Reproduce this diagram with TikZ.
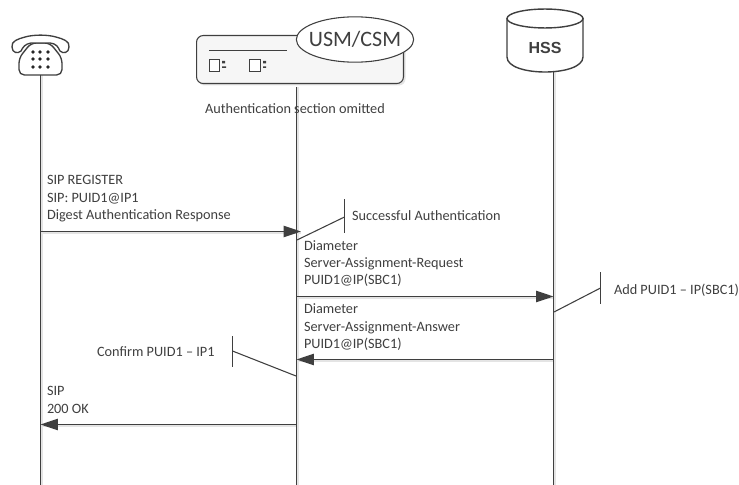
\documentclass[tikz,border=0pt]{standalone}
\usepackage{fontspec}
\setmainfont{Carlito}
\newfontfamily\hssfont{Liberation Sans}
\usetikzlibrary{arrows.meta,shapes.geometric}
\definecolor{ink}{HTML}{3F3F3F}
\definecolor{softgrey}{HTML}{E4E4E4}
\tikzset{
 x=0.75pt,y=-0.75pt,
 lifeline/.style={draw=ink,line width=1pt},
 msg/.style={draw=ink,line width=1pt,-{Triangle[length=13pt,width=8.5pt]}},
 note/.style={draw=ink,line width=0.8pt},
 ghost/.style={draw=softgrey,line width=1.2pt},
 label/.style={inner sep=0pt,outer sep=0pt,align=left,anchor=north west,font=\fontsize{10.7}{13}\selectfont,text=ink},
 cloud/.style={ellipse,draw=ink,line width=0.8pt,fill=white,minimum width=88pt,minimum height=34pt,inner sep=0pt},
 tinybox/.style={draw=ink,line width=0.7pt,fill=white,minimum width=8pt,minimum height=9pt,inner sep=0pt},
}
\begin{document}
\begin{tikzpicture}
\useasboundingbox (0,0) rectangle (739,485);
% anchors
\coordinate (phoneTop) at (40.5,75);
\coordinate (phoneEnd) at (40.5,485);
\coordinate (usmTop) at (296.5,87);
\coordinate (usmEnd) at (296.5,485);
\coordinate (hssTop) at (553.5,71);
\coordinate (hssEnd) at (553.5,485);
\coordinate (m1a) at (40.5,231.5);\coordinate (m1b) at (301,231.5);
\coordinate (m2a) at (296.5,296.5);\coordinate (m2b) at (553.5,296.5);
\coordinate (m3a) at (553.5,359.5);\coordinate (m3b) at (296.5,359.5);
\coordinate (m4a) at (296.5,424.5);\coordinate (m4b) at (40.5,424.5);
\coordinate (n1a) at (297,240);\coordinate (n1b) at (344.5,217);\coordinate (n1t) at (344.5,199);\coordinate (n1e) at (344.5,233);
\coordinate (n2a) at (554,312);\coordinate (n2b) at (600.5,288);\coordinate (n2t) at (600.5,272);\coordinate (n2e) at (600.5,304);
\coordinate (n3a) at (296,376);\coordinate (n3b) at (232.5,351);\coordinate (n3t) at (232.5,336);\coordinate (n3e) at (232.5,367);
% line shadows
\foreach \a/\b in {phoneTop/phoneEnd,usmTop/usmEnd,hssTop/hssEnd}{\draw[ghost,transform canvas={xshift=1.2pt}] (\a)--(\b);}
\foreach \a/\b in {m1a/m1b,m2a/m2b,m3b/m3a,m4b/m4a}{\draw[ghost,transform canvas={yshift=-1.2pt}] (\a)--(\b);}
% server box
\fill[softgrey,rounded corners=5pt] (198,38) rectangle (405.5,85.5);
\node[draw=ink,line width=0.8pt,rounded corners=5pt,fill=softgrey!35,minimum width=155.2pt,minimum height=36pt,inner sep=0pt,anchor=north west] (server) at (196,35) {};
\coordinate (bar1) at (209,50);\coordinate (bar2) at (287,50);
\draw[ink,line width=0.7pt] (bar1)--(bar2);
\node[tinybox] (port1) at (214.5,65) {};
\node[tinybox] (port2) at (255,65) {};
\fill[ink] (222,61) rectangle (225,63.5) (222,66.5) rectangle (226,68);
\fill[ink] (263,61) rectangle (266,63.5) (263,66.5) rectangle (266,68);
\node[cloud] (usm) at (355,39.5) {};
\node[inner sep=0pt,text=ink,font=\fontsize{16.5}{16.5}\selectfont] (usmtext) at (usm.center) {USM/CSM};
% phone
\draw[ink,line width=1pt,rounded corners=4pt,fill=white] (19,75) -- (19,58) -- (31,43) -- (50,43) -- (62,58) -- (62,75) -- cycle;
\draw[ink,line width=1pt,fill=white] (12,47) .. controls (11,41) and (18,39) .. (25,37) .. controls (34,34.5) and (47,34.5) .. (56,37) .. controls (63,39) and (70,41) .. (69,47) .. controls (69,53) and (63,54) .. (60,51) .. controls (58,47) and (57,44) .. (50,43) -- (31,43) .. controls (25,44) and (23,47) .. (21,51) .. controls (18,54) and (12,53) .. (12,47) -- cycle;
\foreach \px in {33,40,48}\foreach \py in {52,59,67}{\fill[black!85] (\px,\py) circle (1.45pt);}
% database
\draw[ink,line width=1.05pt,fill=white] (507,18.5) -- (507,57) .. controls (507,77) and (583,77) .. (583,57) -- (583,18.5) -- cycle;
\node[ellipse,draw=ink,line width=1.05pt,fill=white,minimum width=57pt,minimum height=14.2pt,inner sep=0pt] (hsstop) at (545,18.5) {};
\node[inner sep=0pt,text=ink] (hss) at (545,47.5) {\hssfont\bfseries\fontsize{12}{12}\selectfont HSS};
% lifelines
\draw[lifeline] (phoneTop)--(phoneEnd);
\draw[lifeline] (usmTop)--(usmEnd);
\draw[lifeline] (hssTop)--(hssEnd);
% messages
\draw[msg] (m1a)--(m1b);
\draw[msg] (m2a)--(m2b);
\draw[msg] (m3a)--(m3b);
\draw[msg] (m4a)--(m4b);
% notes
\draw[note] (n1a)--(n1b); \draw[note] (n1t)--(n1e);
\draw[note] (n2a)--(n2b); \draw[note] (n2t)--(n2e);
\draw[note] (n3a)--(n3b); \draw[note] (n3t)--(n3e);
% labels
\node[label] (t0) at (205,104) {Authentication section omitted};
\node[label] (t1) at (47,175.5) {SIP REGISTER\\SIP: PUID1@IP1\\Digest Authentication Response};
\node[label] (t2) at (352,211) {Successful Authentication};
\node[label] (t3) at (304,240.5) {Diameter\\Server-Assignment-Request\\PUID1@IP(SBC1)};
\node[label] (t4) at (614,284) {Add PUID1 – IP(SBC1)};
\node[label] (t5) at (304,304) {Diameter\\Server-Assignment-Answer\\PUID1@IP(SBC1)};
\node[label] (t6) at (97,347) {Confirm PUID1 – IP1};
\node[label] (t7) at (47,386.5) {SIP\\200 OK};
\end{tikzpicture}
\end{document}
